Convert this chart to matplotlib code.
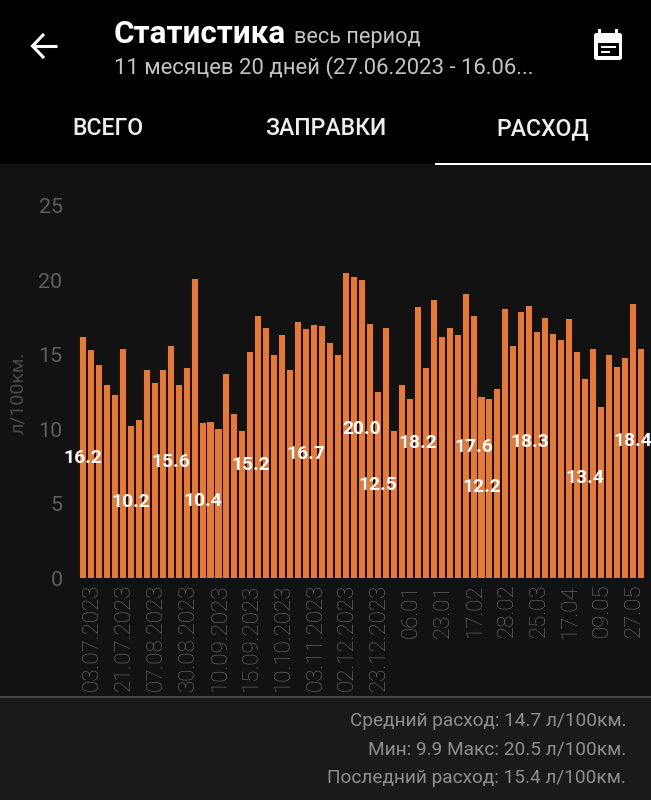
#!/usr/bin/env python3
"""Fuel consumption screen: bars per refuelling, phone app dark theme."""

import matplotlib
matplotlib.use("Agg")
import matplotlib.pyplot as plt
from matplotlib.patches import FancyBboxPatch, Rectangle
from matplotlib.transforms import ScaledTranslation

W, H = 651, 800

# ── data ─────────────────────────────────────────────────────────────────────
consumption = [
    16.2, 15.3, 14.3, 13.0, 12.3, 15.4, 10.2, 10.6, 14.0, 13.1, 14.0, 15.6,
    13.0, 14.1, 20.1, 10.4, 10.5, 10.0, 13.7, 11.0, 9.9, 15.2, 17.6, 16.8,
    15.0, 16.3, 14.0, 17.2, 16.7, 17.0, 16.9, 15.8, 15.0, 20.5, 20.2, 20.0,
    17.1, 12.5, 16.8, 9.9, 13.0, 12.0, 18.2, 14.1, 18.7, 16.2, 16.8, 16.3,
    19.1, 17.6, 12.2, 12.0, 12.7, 18.1, 15.6, 17.9, 18.3, 16.5, 17.5, 16.4,
    16.0, 17.4, 15.2, 13.4, 15.4, 11.5, 15.0, 14.2, 14.8, 18.4, 15.4,
]
labelled_bars = [0, 6, 11, 15, 21, 28, 35, 37, 42, 49, 50, 56, 63, 69]
date_labels = [
    "03.07.2023", "21.07.2023", "07.08.2023", "30.08.2023", "10.09.2023",
    "15.09.2023", "10.10.2023", "03.11.2023", "02.12.2023", "23.12.2023",
    "06.01", "23.01", "17.02", "28.02", "25.03", "17.04", "09.05", "27.05",
]
y_ticks = [0, 5, 10, 15, 20, 25]
tabs = ["ВСЕГО", "ЗАПРАВКИ", "РАСХОД"]
footer_lines = [
    "Средний расход: 14.7 л/100км.",
    "Мин: 9.9 Макс: 20.5 л/100км.",
    "Последний расход: 15.4 л/100км.",
]

# ── colours ──────────────────────────────────────────────────────────────────
HEAD = "#000000"
BG = "#121212"
FOOT = "#1a1a1a"
BAR = "#e07b3c"
GAP = "#2c0b03"
GREY = "#5f5f5f"
DATE_GREY = "#747474"
FOOT_TXT = "#8e8e8e"

plt.rcParams["font.family"] = ["Roboto", "DejaVu Sans"]


def px(size):
    return size * 0.72


fig = plt.figure(figsize=(W / 100, H / 100), dpi=100, facecolor=BG)

# full-figure overlay in pixel coords, y down
ui = fig.add_axes([0, 0, 1, 1], zorder=3)
ui.set_xlim(0, W)
ui.set_ylim(H, 0)
ui.axis("off")

ui.add_patch(Rectangle((0, 0), W, 164, color=HEAD, lw=0))
ui.add_patch(Rectangle((0, 698), W, 102, color=FOOT, lw=0))
ui.add_patch(Rectangle((0, 696), W, 2, color="#454545", lw=0))
ui.add_patch(Rectangle((435, 162.5), 216, 2.5, color="white", lw=0))

# header
ui.text(114, 31, "Статистика", color="white", fontsize=px(31.5),
        fontweight="bold", va="center_baseline", ha="left")
ui.text(294, 34.5, "весь период", color="#c4c4c4", fontsize=px(21.8),
        va="center_baseline", ha="left")
ui.text(114, 65, "11 месяцев 20 дней (27.06.2023 - 16.06...", color="#c4c4c4",
        fontsize=px(22.1), va="center_baseline", ha="left")
for x, name in zip([108, 325.5, 543], tabs):
    ui.text(x, 126, name, color="#eeeeee", fontsize=px(23), fontweight="medium",
            ha="center", va="center_baseline")

# back arrow
ui.plot([32, 57], [46, 46], color="white", lw=2.2, solid_capstyle="butt")
ui.plot([44, 32.5, 44], [34, 46, 58], color="white", lw=2.2,
        solid_capstyle="butt", solid_joinstyle="miter")

# calendar icon
ui.add_patch(FancyBboxPatch((594, 33), 28, 27, boxstyle="round,pad=0,rounding_size=2.5",
                            color="white", lw=0))
ui.add_patch(Rectangle((598, 28.5), 3, 5, color="white", lw=0))
ui.add_patch(Rectangle((615, 28.5), 3, 5, color="white", lw=0))
ui.add_patch(Rectangle((597.5, 43), 21, 13, color=HEAD, lw=0))
ui.add_patch(Rectangle((600.5, 46), 15, 2.2, color="white", lw=0))
ui.add_patch(Rectangle((600.5, 50.5), 9, 2.2, color="white", lw=0))

# footer
for y, line in zip([719, 747.5, 776], footer_lines):
    ui.text(626, y, line, color=FOOT_TXT, fontsize=px(18.95), ha="right",
            va="center_baseline")

# y unit
ui.text(18, 393, "л/100км.", color="#4a4a4a", fontsize=px(19.5), rotation=90,
        ha="center", va="center")

# ── chart ────────────────────────────────────────────────────────────────────
# bar 0 centred at 83 px, 7.97 px pitch; value 0 at 578.3 px, 14.9 px per unit
x_left, x_right = 75, 648
y_bottom, y_top = 578.3, 205.8
ax = fig.add_axes([x_left / W, 1 - y_bottom / H, (x_right - x_left) / W,
                   (y_bottom - y_top) / H], zorder=2)
ax.set_facecolor(BG)
pitch = 7.97
ax.set_xlim(-(83 - x_left) / pitch, (x_right - 83) / pitch)
ax.set_ylim(0, 25)
for sp in ax.spines.values():
    sp.set_visible(False)

xs = list(range(len(consumption)))
ax.bar(xs, consumption, width=1.0, color=GAP, lw=0)
ax.bar(xs, consumption, width=0.76, color=BAR, lw=0)

for i in labelled_bars:
    ax.text(i, consumption[i] / 2, f"{consumption[i]:.1f}", color="white",
            fontsize=px(19.3), fontweight="bold", ha="center", va="center",
            clip_on=False, zorder=5)

ax.set_yticks(y_ticks)
ax.set_yticklabels([str(v) for v in y_ticks], color=GREY, fontsize=px(21.5))
tick_pos = list(range(1, len(consumption), 4))
ax.set_xticks(tick_pos)
ax.set_xticklabels(date_labels, rotation=90, color=DATE_GREY, fontsize=px(22.3),
                   fontweight="light", ha="center", va="top")
ax.tick_params(axis="both", length=0)
ax.tick_params(axis="y", pad=9)
ax.tick_params(axis="x", pad=4)

# date labels sit a touch right of their bars
shift = ScaledTranslation(1.5 / 100, 0, fig.dpi_scale_trans)
for lab in ax.get_xticklabels():
    lab.set_transform(lab.get_transform() + shift)

fig.savefig("out.png", dpi=100, facecolor=BG)
